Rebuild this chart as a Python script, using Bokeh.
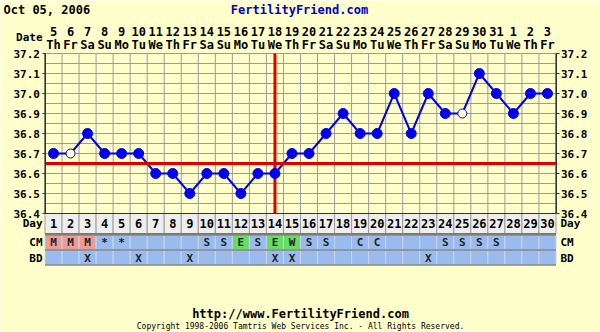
from bokeh.plotting import figure
from bokeh.models import Range1d, LinearAxis, FixedTicker, PrintfTickFormatter, ColumnDataSource
from bokeh.core.properties import value
from bokeh.embed import file_html
from bokeh.resources import INLINE

# ---------------- data ----------------
title_date = "Oct 05, 2006"
site = "FertilityFriend.com"
days = list(range(1, 31))
dates = ["5", "6", "7", "8", "9", "10", "11", "12", "13", "14", "15", "16", "17", "18", "19",
         "20", "21", "22", "23", "24", "25", "26", "27", "28", "29", "30", "31", "1", "2", "3"]
weekdays = ["Th", "Fr", "Sa", "Su", "Mo", "Tu", "We", "Th", "Fr", "Sa", "Su", "Mo", "Tu", "We", "Th",
            "Fr", "Sa", "Su", "Mo", "Tu", "We", "Th", "Fr", "Sa", "Su", "Mo", "Tu", "We", "Th", "Fr"]
temps = [36.7, 36.7, 36.8, 36.7, 36.7, 36.7, 36.6, 36.6, 36.5, 36.6,
         36.6, 36.5, 36.6, 36.6, 36.7, 36.7, 36.8, 36.9, 36.8, 36.8,
         37.0, 36.8, 37.0, 36.9, 36.9, 37.1, 37.0, 36.9, 37.0, 37.0]
discarded = [2, 25]
cm = ["M", "M", "M", "*", "*", "", "", "", "", "S", "S", "E", "S", "E", "W",
      "S", "S", "", "C", "C", "", "", "", "S", "S", "S", "S", "", "", ""]
bd = ["", "", "X", "", "", "X", "", "", "X", "", "", "", "", "X", "X",
      "", "", "", "", "", "", "", "X", "", "", "", "", "", "", ""]
y_ticks = [36.4, 36.5, 36.6, 36.7, 36.8, 36.9, 37.0, 37.1, 37.2]
coverline = 36.65
ovulation_day = 14
footer_url = "http://www.FertilityFriend.com"
footer_copy = "Copyright 1998-2006 Tamtris Web Services Inc. - All Rights Reserved."

# ---------------- style ----------------
BG = "#FFFFCC"
GRID = "#9C9C9C"
BLUE = "#0000EE"
RED = "#DD0000"
CELL_BLUE = "#99BBEE"
CM_COLORS = {"M": "#EE9A96", "E": "#66DD66", "W": "#66DD66"}
FONT = value("DejaVu Sans Mono")

W, H = 600, 332
colw = 511 / 30.0
X0 = 0.5 - 44.5 / colw
X1 = X0 + W / colw
Y1 = 37.2 + 53 / 200.0
Y0 = Y1 - H / 200.0

p = figure(width=W, height=H, x_range=Range1d(X0, X1), y_range=Range1d(Y0, Y1),
           x_axis_type=None, y_axis_type=None, toolbar_location=None,
           output_backend="svg", min_border=0, background_fill_color=BG,
           border_fill_color=BG, outline_line_color=None)
p.extra_y_ranges = {"px": Range1d(H, 0)}
p.extra_x_ranges = {"px": Range1d(0, W)}

tmin, tmax = y_ticks[0], y_ticks[-1]
first, last = days[0] - 0.5, days[-1] + 0.5

# grid
hg = [tmin + 0.05 * i for i in range(int(round((tmax - tmin) / 0.05)) + 1)]
p.segment(x0=[first] * len(hg), x1=[last] * len(hg), y0=hg, y1=hg, line_color=GRID, line_width=1)
vg = [d + 0.5 for d in [0] + days]
p.segment(x0=vg, x1=vg, y0=[tmin] * len(vg), y1=[tmax] * len(vg), line_color=GRID, line_width=1)

# rows: Day / CM / BD (pixel range)
rows = ColumnDataSource(dict(
    left=[d - 0.5 for d in days], right=[d + 0.5 for d in days],
    day=[str(d) for d in days],
    cm=cm, bd=bd,
    cmfill=[CM_COLORS.get(c, CELL_BLUE) for c in cm],
    x=days))
p.quad(left="left", right="right", top=213, bottom=233, source=rows, y_range_name="px",
       fill_color="#EEEEEE", line_color=GRID, line_width=1)
p.quad(left="left", right="right", top=235, bottom=249, source=rows, y_range_name="px",
       fill_color="cmfill", line_color="#C8D4E6", line_width=1)
p.quad(left="left", right="right", top=250, bottom=264, source=rows, y_range_name="px",
       fill_color=CELL_BLUE, line_color="#C8D4E6", line_width=1)
p.segment(x0=[first] * 4, x1=[last] * 4, y0=[233.5, 234.5, 249.5, 264.5], y1=[233.5, 234.5, 249.5, 264.5],
          y_range_name="px", line_color="#555555", line_width=1)

p.text(x="x", y=223, text="day", source=rows, y_range_name="px", text_font=FONT,
       text_font_size="12px", text_font_style="bold", text_align="center",
       text_baseline="middle", text_color="#000000")
p.text(x="x", y=242, text="cm", source=rows, y_range_name="px", text_font=FONT,
       text_font_size="11px", text_font_style="bold", text_align="center",
       text_baseline="middle", text_color="#222222")
p.text(x="x", y=257.5, text="bd", source=rows, y_range_name="px", text_font=FONT,
       text_font_size="11px", text_font_style="bold", text_align="center",
       text_baseline="middle", text_color="#222222")

# row labels
for lab, yy in [("Day", 223), ("CM", 242), ("BD", 257.5)]:
    p.text(x=[42], y=[yy], text=[lab], x_range_name="px", y_range_name="px", text_font=FONT,
           text_font_size="11px", text_font_style="bold", text_align="right", text_baseline="middle",
           text_color="#000000")
    p.text(x=[560], y=[yy], text=[lab], x_range_name="px", y_range_name="px", text_font=FONT,
           text_font_size="11px", text_font_style="bold", text_align="left", text_baseline="middle",
           text_color="#000000")

# header
p.text(x=[3], y=[9], text=[title_date], x_range_name="px", y_range_name="px", text_font=FONT,
       text_font_size="12px", text_font_style="bold", text_align="left", text_baseline="middle",
       text_color="#000000")
p.text(x=[299], y=[9], text=[site], x_range_name="px", y_range_name="px", text_font=FONT,
       text_font_size="12px", text_font_style="bold", text_align="center", text_baseline="middle",
       text_color="#0000CC")
p.text(x=[42], y=[37], text=["Date"], x_range_name="px", y_range_name="px", text_font=FONT,
       text_font_size="11px", text_font_style="bold", text_align="right", text_baseline="middle",
       text_color="#000000")
hdr = ColumnDataSource(dict(x=days, d=dates, w=weekdays))
p.text(x="x", y=31, text="d", source=hdr, y_range_name="px", text_font=FONT,
       text_font_size="12px", text_font_style="bold", text_align="center", text_baseline="middle",
       text_color="#000000")
p.text(x="x", y=44, text="w", source=hdr, y_range_name="px", text_font=FONT,
       text_font_size="12px", text_font_style="bold", text_align="center", text_baseline="middle",
       text_color="#000000")

# footer
p.text(x=[300], y=[313], text=[footer_url], x_range_name="px", y_range_name="px", text_font=FONT,
       text_font_size="12px", text_font_style="bold", text_align="center", text_baseline="middle",
       text_color="#000000")
p.text(x=[300], y=[326], text=[footer_copy], x_range_name="px", y_range_name="px", text_font=FONT,
       text_font_size="8px", text_align="center", text_baseline="middle",
       text_color="#000000")

# plot border lines
p.segment(x0=[first, last], x1=[first, last], y0=[tmin, tmin], y1=[tmax, tmax],
          line_color="#333333", line_width=1)
p.segment(x0=[first], x1=[last], y0=[tmin], y1=[tmin], line_color="#333333", line_width=1)

# temperature line
src = ColumnDataSource(dict(x=days, t=temps))
p.line(x="x", y="t", source=src, line_color=BLUE, line_width=2)

# coverline & ovulation
p.segment(x0=[first], x1=[last], y0=[coverline], y1=[coverline], line_color=RED, line_width=3)
p.segment(x0=[ovulation_day], x1=[ovulation_day], y0=[tmin], y1=[tmax], line_color=RED, line_width=3)

full = ColumnDataSource(dict(x=[d for d in days if d not in discarded],
                             t=[t for d, t in zip(days, temps) if d not in discarded]))
opn = ColumnDataSource(dict(x=[d for d in days if d in discarded],
                            t=[t for d, t in zip(days, temps) if d in discarded]))
p.scatter(x="x", y="t", source=full, size=10, fill_color=BLUE, line_color=BLUE)
p.scatter(x="x", y="t", source=opn, size=9, fill_color=BG, line_color=BLUE, line_width=1)

# temperature axes
for side, loc, align in [("left", first, None), ("right", last, None)]:
    ax = LinearAxis(fixed_location=loc, ticker=FixedTicker(ticks=y_ticks),
                    formatter=PrintfTickFormatter(format="%.1f"), bounds=(tmin, tmax))
    ax.axis_line_color = "#333333"
    ax.major_tick_line_color = "#333333"
    ax.major_tick_out = 3
    ax.major_tick_in = 0
    ax.minor_tick_line_color = None
    ax.major_label_text_font = "DejaVu Sans Mono"
    ax.major_label_text_font_size = "11px"
    ax.major_label_text_font_style = "bold"
    ax.major_label_text_color = "#000000"
    ax.major_label_standoff = 2
    p.add_layout(ax, side)

open("out.html", "w").write(file_html(p, INLINE))
